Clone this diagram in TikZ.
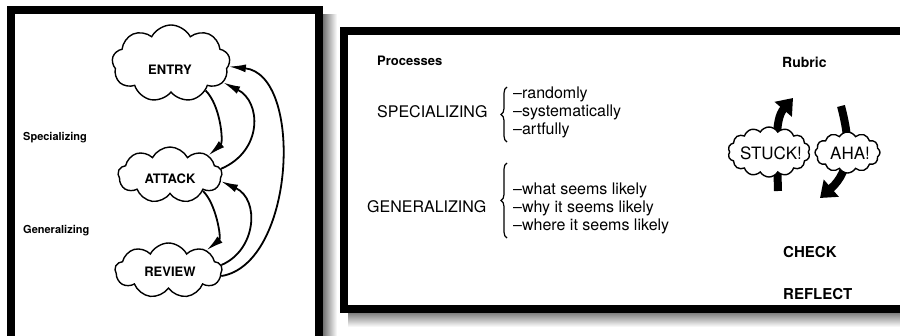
\documentclass[tikz,border=0pt]{standalone}
\usepackage{fontspec}
\setmainfont{TeX Gyre Heros}
\usetikzlibrary{shapes.symbols,arrows.meta,decorations.pathreplacing}
\begin{document}
\begin{tikzpicture}[x=1pt,y=-1pt,
  panel/.style={line width=8pt},
  puff/.style={cloud, cloud puffs=9, cloud puff arc=125, draw, line width=1.4pt, fill=white, inner sep=0pt, cloud ignores aspect},
  bubble/.style={puff, cloud puffs=14, cloud puff arc=120},
  cloudtxt/.style={font=\fontsize{13}{15}\selectfont\bfseries, anchor=base, inner sep=0pt},
  bubtxt/.style={font=\fontsize{17}{19}\selectfont, anchor=base, inner sep=0pt},
  sidetxt/.style={font=\fontsize{11}{13}\selectfont\bfseries, anchor=base west, inner sep=0pt},
  loop/.style={line width=1.8pt, -{Latex[length=17pt,width=8pt]}},
  big/.style={font=\fontsize{16}{18}\selectfont, anchor=base west, inner sep=0pt},
  head/.style={font=\fontsize{13}{15}\selectfont\bfseries, anchor=base west, inner sep=0pt},
  stage/.style={font=\fontsize{15}{17}\selectfont\bfseries, anchor=base west, inner sep=0pt},
  brc/.style={line width=1.2pt, decorate, decoration={brace, amplitude=6pt}},
  fat/.style={line width=8pt, -{Triangle[length=15pt,width=22pt]}},
]
\useasboundingbox (0,0) rectangle (900,335);
\clip (0,0) rectangle (900,335);
% shadows
\shade[left color=black!55, right color=white] (323,14) rectangle (337,335);
\shade[top color=black!50, bottom color=white] (348,313) rectangle (900,327);
% panels
\draw[panel] (11,10) rectangle (319,340);
\draw[panel] (344,31) rectangle (906,309);

% ---- left panel
\node[puff, minimum width=118pt, minimum height=77pt] (entry) at (171,63.5) {};
\node[puff, minimum width=104pt, minimum height=56pt] (attack) at (170,175) {};
\node[puff, minimum width=107pt, minimum height=55pt] (review) at (168.5,270.5) {};
\node[cloudtxt] (entryT) at (170,74) {ENTRY};
\node[cloudtxt] (attackT) at (170,183) {ATTACK};
\node[cloudtxt] (reviewT) at (170,276) {REVIEW};
\node[sidetxt] (specL) at (23,140) {Specializing};
\node[sidetxt] (genL) at (23,233) {Generalizing};

\draw[loop] (entry.-38) .. controls +(15,15) and +(15,-13) .. (attack.27);
\draw[loop] (attack.7) .. controls +(42,-18) and +(38,19) .. (entry.-20);
\draw[loop] (review.-6) .. controls +(74,-12) and +(75,8) .. (entry.-3);
\draw[loop] (attack.-26) .. controls +(13,12) and +(15,-12) .. (review.28);
\draw[loop] (review.6) .. controls +(35,-15) and +(39,18) .. (attack.-7);

% ---- right panel
\node[head] (proc) at (377,65) {Processes};
\node[big] (spec) at (377,117) {SPECIALIZING};
\draw[brc] (507,142) -- (507,87);
\node[big] (s1) at (513,98) {--randomly};
\node[big] (s2) at (513,116) {--systematically};
\node[big] (s3) at (513,134) {--artfully};
\node[big] (gen) at (367,212) {GENERALIZING};
\draw[brc] (507,238) -- (507,163);
\node[big] (g1) at (513,194) {--what seems likely};
\node[big] (g2) at (513,212) {--why it seems likely};
\node[big] (g3) at (513,230) {--where it seems likely};

\node[head, font=\fontsize{14}{16}\selectfont\bfseries] (rub) at (782,67) {Rubric};
\coordinate (stuckTail) at (778,191);
\coordinate (stuckTip) at (793,98);
\coordinate (ahaTail) at (841,106);
\coordinate (ahaTip) at (820,198);
\draw[fat] (stuckTail) .. controls (777,150) and (774,120) .. (stuckTip);
\draw[fat] (ahaTail) .. controls (850,140) and (852,170) .. (ahaTip);
\node[bubble, minimum width=82pt, minimum height=50pt] (stuck) at (769,152) {};
\node[bubble, cloud puffs=12, minimum width=65pt, minimum height=41pt] (aha) at (847.5,152.5) {};
\node[bubtxt] (stuckT) at (771,159) {STUCK!};
\node[bubtxt] (ahaT) at (850,159) {AHA!};
\node[stage] (check) at (783,257) {CHECK};
\node[stage] (reflect) at (783,299) {REFLECT};
\end{tikzpicture}
\end{document}
